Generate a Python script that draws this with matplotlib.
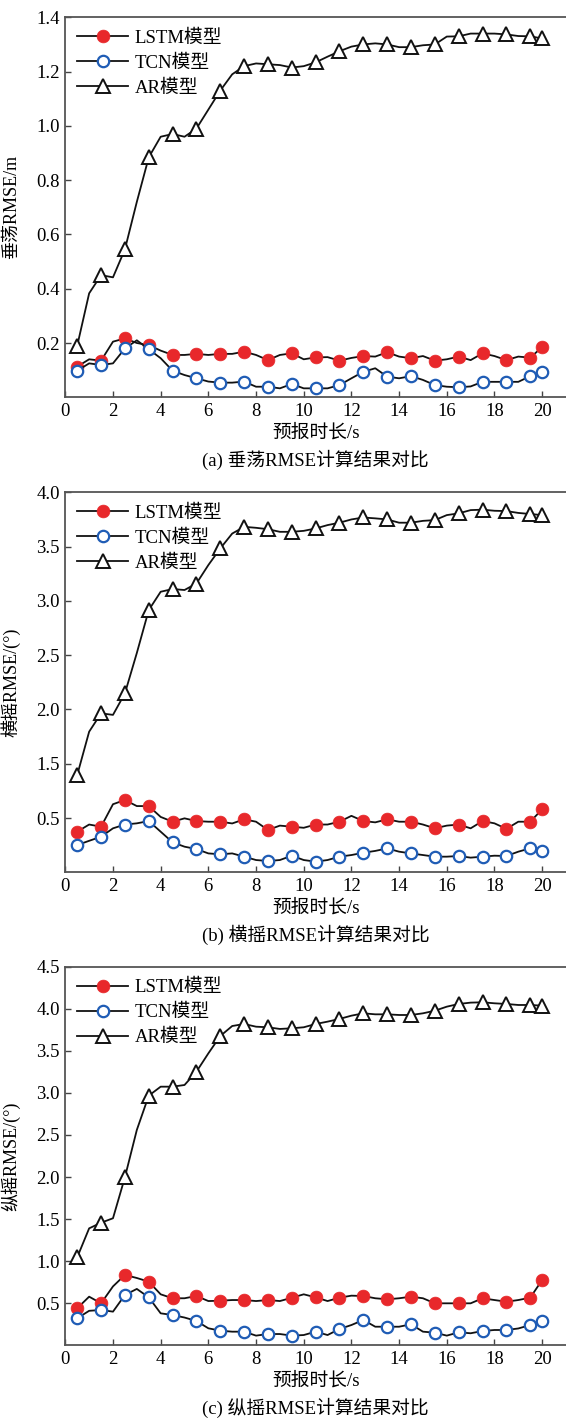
import matplotlib
matplotlib.use("Agg")
import matplotlib.pyplot as plt

plt.rcParams['font.family'] = ['Liberation Serif', 'Noto Sans CJK SC']
plt.rcParams['font.size'] = 13
plt.rcParams['axes.unicode_minus'] = False

# ---------------- data ----------------
t = [0.5, 1.0, 1.5, 2.0, 2.5, 3.0, 3.5, 4.0, 4.5, 5.0,
     5.5, 6.0, 6.5, 7.0, 7.5, 8.0, 8.5, 9.0, 9.5, 10.0,
     10.5, 11.0, 11.5, 12.0, 12.5, 13.0, 13.5, 14.0, 14.5, 15.0,
     15.5, 16.0, 16.5, 17.0, 17.5, 18.0, 18.5, 19.0, 19.5, 20.0]

series_names = ['LSTM模型', 'TCN模型', 'AR模型']

lstm_a = [0.113, 0.14, 0.135, 0.205, 0.217, 0.20, 0.192, 0.172, 0.156, 0.156,
          0.16, 0.156, 0.16, 0.16, 0.168, 0.156, 0.137, 0.156, 0.162, 0.14,
          0.147, 0.148, 0.135, 0.145, 0.152, 0.15, 0.166, 0.15, 0.144, 0.152,
          0.135, 0.14, 0.15, 0.137, 0.162, 0.152, 0.137, 0.15, 0.146, 0.185]
tcn_a = [0.098, 0.125, 0.119, 0.125, 0.18, 0.21, 0.177, 0.144, 0.098, 0.082,
         0.07, 0.058, 0.054, 0.054, 0.058, 0.039, 0.039, 0.033, 0.049, 0.033,
         0.033, 0.033, 0.045, 0.07, 0.094, 0.107, 0.076, 0.07, 0.078, 0.064,
         0.045, 0.039, 0.037, 0.04, 0.057, 0.057, 0.057, 0.057, 0.078, 0.094]
ar_a = [0.19, 0.383, 0.45, 0.442, 0.545, 0.72, 0.884, 0.96, 0.97, 0.96,
        0.99, 1.06, 1.13, 1.19, 1.22, 1.23, 1.227, 1.224, 1.215, 1.22,
        1.234, 1.255, 1.275, 1.292, 1.30, 1.304, 1.30, 1.29, 1.29, 1.297,
        1.30, 1.329, 1.33, 1.34, 1.34, 1.34, 1.337, 1.331, 1.33, 1.322]

lstm_b = [0.874, 0.94, 0.92, 1.127, 1.166, 1.11, 1.11, 1.01, 0.966, 0.997,
          0.972, 0.966, 0.966, 0.95, 0.988, 0.966, 0.89, 0.93, 0.92, 0.91,
          0.94, 0.94, 0.966, 1.02, 0.972, 0.96, 0.988, 0.966, 0.966, 0.94,
          0.905, 0.93, 0.94, 0.905, 0.972, 0.951, 0.90, 0.966, 0.966, 1.08]
tcn_b = [0.751, 0.79, 0.828, 0.905, 0.94, 0.951, 0.972, 0.874, 0.776, 0.736,
         0.714, 0.674, 0.666, 0.674, 0.644, 0.613, 0.604, 0.613, 0.653, 0.613,
         0.598, 0.613, 0.644, 0.659, 0.68, 0.697, 0.72, 0.69, 0.674, 0.659,
         0.644, 0.644, 0.65, 0.635, 0.644, 0.653, 0.65, 0.69, 0.721, 0.699]
ar_b = [1.396, 1.795, 1.964, 1.95, 2.148, 2.52, 2.915, 3.084, 3.109, 3.10,
        3.16, 3.33, 3.483, 3.62, 3.682, 3.673, 3.66, 3.636, 3.636, 3.645,
        3.667, 3.698, 3.72, 3.75, 3.768, 3.76, 3.75, 3.72, 3.72, 3.737,
        3.744, 3.79, 3.806, 3.836, 3.84, 3.83, 3.827, 3.81, 3.80, 3.79]

lstm_c = [0.44, 0.578, 0.499, 0.70, 0.836, 0.80, 0.756, 0.606, 0.559, 0.559,
          0.586, 0.526, 0.53, 0.538, 0.538, 0.526, 0.538, 0.526, 0.565, 0.606,
          0.57, 0.526, 0.566, 0.59, 0.586, 0.559, 0.547, 0.559, 0.578, 0.559,
          0.499, 0.499, 0.499, 0.499, 0.559, 0.538, 0.518, 0.538, 0.566, 0.776]
tcn_c = [0.321, 0.41, 0.42, 0.40, 0.598, 0.67, 0.57, 0.38, 0.36, 0.33,
         0.289, 0.202, 0.174, 0.162, 0.162, 0.115, 0.134, 0.134, 0.115, 0.122,
         0.162, 0.122, 0.194, 0.241, 0.301, 0.221, 0.221, 0.221, 0.25, 0.162,
         0.15, 0.115, 0.154, 0.143, 0.17, 0.182, 0.182, 0.20, 0.241, 0.289]
ar_c = [1.046, 1.39, 1.457, 1.51, 1.997, 2.56, 2.967, 3.074, 3.074, 3.094,
        3.252, 3.47, 3.676, 3.795, 3.819, 3.787, 3.78, 3.76, 3.768, 3.78,
        3.819, 3.847, 3.879, 3.918, 3.946, 3.934, 3.934, 3.926, 3.926, 3.946,
        3.977, 4.025, 4.057, 4.073, 4.077, 4.065, 4.057, 4.045, 4.045, 4.037]

xticks = [0, 2, 4, 6, 8, 10, 12, 14, 16, 18, 20]
xticklabels = ['0', '2', '4', '6', '8', '10', '12', '14', '16', '18', '20']

yticks_a = [0.2, 0.4, 0.6, 0.8, 1.0, 1.2, 1.4]
yticklabels_a = ['0.2', '0.4', '0.6', '0.8', '1.0', '1.2', '1.4']
yticks_b = [1.0, 1.5, 2.0, 2.5, 3.0, 3.5, 4.0]
yticklabels_b = ['0.5', '1.5', '2.0', '2.5', '3.0', '3.5', '4.0']
yticks_c = [0.5, 1.0, 1.5, 2.0, 2.5, 3.0, 3.5, 4.0, 4.5]
yticklabels_c = ['0.5', '1.0', '1.5', '2.0', '2.5', '3.0', '3.5', '4.0', '4.5']

ylabels = ['垂荡RMSE/m', '横摇RMSE/(°)', '纵摇RMSE/(°)']
captions = ['(a) 垂荡RMSE计算结果对比', '(b) 横摇RMSE计算结果对比', '(c) 纵摇RMSE计算结果对比']
xlabel = '预报时长/s'

panels = [
    (lstm_a, tcn_a, ar_a, (0.0, 1.4), yticks_a, yticklabels_a),
    (lstm_b, tcn_b, ar_b, (0.5, 4.0), yticks_b, yticklabels_b),
    (lstm_c, tcn_c, ar_c, (0.0, 4.5), yticks_c, yticklabels_c),
]

# ---------------- figure ----------------
W, H = 566, 1420
fig = plt.figure(figsize=(W / 100, H / 100), dpi=100)

# (top px, bottom px) of each axes
ax_px = [(17.3, 397.3), (492.3, 872.3), (966.7, 1345.3)]
left_px = 65.3

red = '#e8282b'
blue = '#1f5cb5'
marks = list(range(0, len(t), 2)) + [len(t) - 1]

for i, (lstm, tcn, ar, ylim, yt, ytl) in enumerate(panels):
    top, bot = ax_px[i]
    ax = fig.add_axes([left_px / W, 1 - bot / H, 1 - left_px / W, (bot - top) / H])
    ax.plot(t, lstm, color='#111111', lw=1.3, marker='o', ms=9.2,
            mfc=red, mec=red, mew=0.5, markevery=marks, label=series_names[0], zorder=3)
    ax.plot(t, tcn, color='#111111', lw=1.3, marker='o', ms=8.2,
            mfc='white', mec=blue, mew=1.6, markevery=marks, label=series_names[1], zorder=4)
    ax.plot(t, ar, color='#111111', lw=1.3, marker='^', ms=9.5,
            mfc='white', mec='#111111', mew=1.4, markevery=marks, label=series_names[2], zorder=5)

    ax.set_xlim(0, 21)
    ax.set_ylim(*ylim)
    ax.set_xticks(xticks)
    ax.set_xticklabels(xticklabels)
    ax.set_yticks(yt)
    ax.set_yticklabels(ytl)
    ax.tick_params(direction='in', length=4, width=1.0, color='#444444',
                   labelsize=13.5, pad=4)
    for s in ['left', 'bottom', 'top']:
        ax.spines[s].set_color('#555555')
        ax.spines[s].set_linewidth(1.3)
    ax.spines['right'].set_visible(False)

    ax.set_ylabel(ylabels[i], fontsize=13)
    ax.yaxis.set_label_coords(-45 / (W - left_px), 0.5)
    ax.set_xlabel(xlabel, fontsize=13.5)
    h = bot - top
    ax.xaxis.set_label_coords(0.5, -36 / h)
    ax.xaxis.label.set_verticalalignment('center')
    ax.text(0.5, -63 / h, captions[i], transform=ax.transAxes,
            ha='center', va='center', fontsize=13.5)

    ax.legend(loc='upper left', bbox_to_anchor=(0.0, 1.0), frameon=False,
              fontsize=13.5, handlelength=2.7, handletextpad=0.35,
              labelspacing=0.42, borderaxespad=0.25, borderpad=0.4)

fig.savefig('out.png', dpi=100)
